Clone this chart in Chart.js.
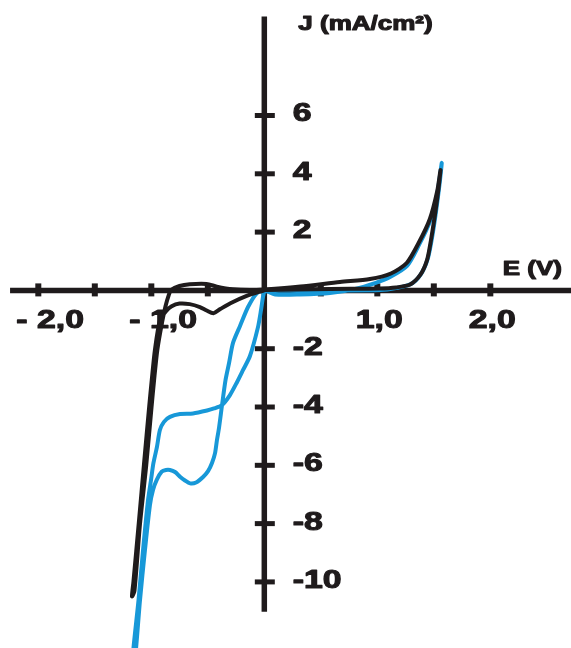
<!DOCTYPE html>
<html>
<head>
<meta charset="utf-8">
<title>J vs E</title>
<script src="https://cdn.jsdelivr.net/npm/chart.js"></script>
<style>
  html, body { margin: 0; padding: 0; background: #fff; }
  canvas { display: block; }
</style>
</head>
<body>
<canvas id="cv-chart" width="571" height="648"></canvas>
<script>
// Voltammogram - two cycles

const blackE = [0, -0.04, -0.156, -0.30, -0.39, -0.45, -0.51, -0.57, -0.66, -0.75, -0.82, -0.87, -0.923, -0.967, -0.996, -1.019, -1.065, -1.109, -1.158, -1.171,
  -1.149, -1.10, -1.045, -0.998, -0.976, -0.947, -0.905, -0.875, -0.845, -0.826, -0.75, -0.66, -0.51, -0.42, -0.28, -0.13, 0,
  0.32, 0.67, 0.935, 1.12, 1.26, 1.37, 1.465, 1.53, 1.559,
  1.54, 1.51, 1.475, 1.44, 1.38, 1.29, 1.165, 1.02, 0.58, 0];
const blackJ = [0, -0.04, -0.19, -0.44, -0.64, -0.78, -0.69, -0.57, -0.47, -0.45, -0.54, -0.71, -1.02, -2.01, -3.07, -4.0, -5.97, -7.9, -9.99, -10.5,
  -10.3, -8.0, -6.0, -4.0, -3.1, -2.05, -1.1, -0.55, -0.15, 0.01, 0.15, 0.21, 0.22, 0.13, 0.04, 0.01, 0.03,
  0.13, 0.29, 0.39, 0.58, 0.94, 1.66, 2.45, 3.4, 4.13,
  3.44, 2.59, 1.73, 1.04, 0.53, 0.2, 0.1, 0.065, 0.05, 0.01];

const blueE = [0, -0.012, -0.029, -0.056, -0.127, -0.188, -0.242, -0.304, -0.374, -0.445, -0.507, -0.631, -0.746, -0.835, -0.888, -0.924, -0.950, -0.981, -1.003, -1.029, -1.073, -1.113, -1.158, -1.166,
  -1.149, -1.100, -1.056, -1.012, -0.985, -0.952, -0.908, -0.870, -0.835, -0.790, -0.746, -0.702, -0.657, -0.604, -0.542, -0.498, -0.463, -0.436, -0.419, -0.401, -0.374, -0.343, -0.312, -0.277, -0.215, -0.144, -0.067, 0,
  0.095, 0.316, 0.581, 0.803, 0.980, 1.113, 1.263, 1.369, 1.467, 1.528, 1.570,
  1.550, 1.519, 1.484, 1.448, 1.386, 1.298, 1.165, 1.024, 0.581, 0];
const blueJ = [-0.02, -0.23, -0.67, -1.26, -2.25, -2.73, -3.15, -3.59, -3.93, -4.05, -4.12, -4.22, -4.24, -4.34, -4.51, -4.79, -5.37, -5.92, -6.51, -7.19, -8.90, -10.62, -12.27, -12.85,
  -12.85, -10.62, -8.90, -7.36, -6.85, -6.50, -6.22, -6.16, -6.16, -6.23, -6.39, -6.52, -6.62, -6.59, -6.40, -6.20, -5.92, -5.58, -5.13, -4.72, -3.93, -3.07, -2.49, -1.80, -1.22, -0.57, -0.10, 0,
  -0.14, -0.14, -0.09, 0.05, 0.25, 0.46, 0.84, 1.56, 2.38, 3.27, 4.37,
  3.62, 2.69, 1.80, 1.11, 0.56, 0.22, 0.08, 0.01, 0, 0];

const xTickValues = [-2, -1.5, -1, -0.5, 0.5, 1, 1.5, 2];
const xLabelValues = [-2, -1, 1, 2];
const xLabels = ['- 2,0', '- 1,0', '1,0', '2,0'];
const yTickValues = [6, 4, 2, -2, -4, -6, -8, -10];
const yLabels = ['6', '4', '2', '-2', '-4', '-6', '-8', '-10'];

const INK = '#1f1b1c';
const BLUE = '#1798d8';
const FONT = '"Liberation Sans", Arial, sans-serif';

function toPoints(es, js) {
    return es.map((e, i) => ({ x: e, y: js[i] }));
}

// the lettering in the original is wide and heavy, so stretch + outline it
function stretchText(ctx, text, px, py, align, size) {
    ctx.save();
    ctx.translate(px, py);
    ctx.scale(1.3, 1);
    ctx.font = 'bold ' + size + 'px ' + FONT;
    ctx.textAlign = align;
    ctx.textBaseline = 'alphabetic';
    ctx.lineWidth = 1.1;
    ctx.lineJoin = 'round';
    ctx.fillText(text, 0, 0);
    ctx.strokeText(text, 0, 0);
    ctx.restore();
}

function line(ctx, x1, y1, x2, y2) {
    ctx.beginPath();
    ctx.moveTo(x1, y1);
    ctx.lineTo(x2, y2);
    ctx.stroke();
}

// axes cross at the origin, drawn under the curves
const crossAxes = {
    id: 'crossAxes',
    beforeDatasetsDraw(chart) {
        const { ctx } = chart;
        const xs = chart.scales.x, ys = chart.scales.y;
        const x0 = xs.getPixelForValue(0);
        const y0 = ys.getPixelForValue(0);
        ctx.save();
        ctx.strokeStyle = INK;
        ctx.fillStyle = INK;
        ctx.lineCap = 'butt';

        ctx.lineWidth = 5.5;
        line(ctx, xs.getPixelForValue(-2.25), y0, xs.getPixelForValue(2.8), y0);
        line(ctx, x0, ys.getPixelForValue(9.4), x0, ys.getPixelForValue(-11.02));

        ctx.lineWidth = 6;
        xTickValues.forEach(v => {
            const px = xs.getPixelForValue(v);
            line(ctx, px, y0 - 7, px, y0 + 6);
        });
        ctx.lineWidth = 5;
        yTickValues.forEach(v => {
            const py = ys.getPixelForValue(v);
            line(ctx, x0 - 9.5, py, x0 + 10.5, py);
        });

        xLabelValues.forEach((v, i) => {
            const px = xs.getPixelForValue(v);
            if (v < 0) stretchText(ctx, xLabels[i], px - 22, y0 + 38, 'left', 26);
            else stretchText(ctx, xLabels[i], px + 2, y0 + 38, 'center', 26);
        });
        yTickValues.forEach((v, i) => {
            stretchText(ctx, yLabels[i], x0 + 28.5, ys.getPixelForValue(v) + 6, 'left', 26);
        });

        stretchText(ctx, 'J (mA/cm²)', x0 + 34, 30, 'left', 20);
        stretchText(ctx, 'E (V)', xs.getPixelForValue(2.11), y0 - 15, 'left', 20);
        ctx.restore();
    }
};

new Chart(document.getElementById('cv-chart'), {
    type: 'scatter',
    data: {
        datasets: [
            {
                label: 'cycle 2',
                data: toPoints(blackE, blackJ),
                showLine: true,
                borderColor: INK,
                borderWidth: 4,
                pointRadius: 0,
                tension: 0.25,
                order: 1
            },
            {
                label: 'cycle 1',
                data: toPoints(blueE, blueJ),
                showLine: true,
                borderColor: BLUE,
                borderWidth: 4,
                pointRadius: 0,
                tension: 0.25,
                order: 2
            }
        ]
    },
    options: {
        responsive: false,
        animation: false,
        devicePixelRatio: 1,
        layout: { padding: 0 },
        plugins: { legend: { display: false }, tooltip: { enabled: false } },
        scales: {
            x: { type: 'linear', min: -2.339, max: 2.714, display: false },
            y: { type: 'linear', min: -12.267, max: 9.962, display: false }
        }
    },
    plugins: [crossAxes]
});
</script>
</body>
</html>
